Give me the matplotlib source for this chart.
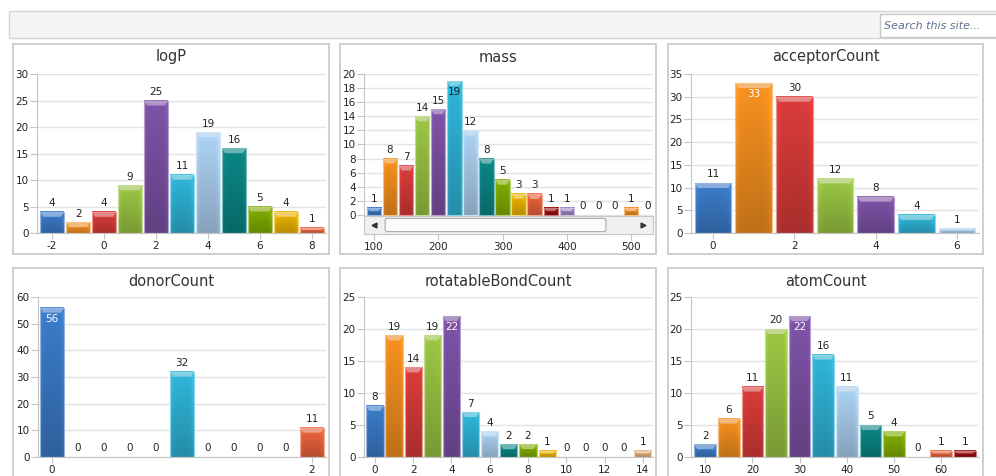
import numpy as np
import matplotlib.pyplot as plt
from matplotlib.patches import Rectangle, Polygon, FancyBboxPatch
from matplotlib.colors import to_rgb

plt.rcParams['axes.unicode_minus'] = False

W, H = 996, 476

# bar colours, used in turn
palette = ['#3a78c3', '#ee8c1f', '#d33a38', '#96c042', '#7a50a2', '#2eb0d2',
           '#a7cbea', '#0b8282', '#7ea900', '#e8b000', '#e6603b', '#990a0a',
           '#9c84c2', '#5b9bd5', '#e2aa7a']

# histogram data
logp_x = [-2, -1, 0, 1, 2, 3, 4, 5, 6, 7, 8]
logp_n = [4, 2, 4, 9, 25, 11, 19, 16, 5, 4, 1]

mass_x = [100, 125, 150, 175, 200, 225, 250, 275, 300, 325, 350, 375, 400,
          425, 450, 475, 500, 525]
mass_n = [1, 8, 7, 14, 15, 19, 12, 8, 5, 3, 3, 1, 1, 0, 0, 0, 1, 0]

acc_x = [0, 1, 2, 3, 4, 5, 6]
acc_n = [11, 33, 30, 12, 8, 4, 1]

donor_x = [0.0, 0.2, 0.4, 0.6, 0.8, 1.0, 1.2, 1.4, 1.6, 1.8, 2.0]
donor_n = [56, 0, 0, 0, 0, 32, 0, 0, 0, 0, 11]

rot_x = [0, 1, 2, 3, 4, 5, 6, 7, 8, 9, 10, 11, 12, 13, 14]
rot_n = [8, 19, 14, 19, 22, 7, 4, 2, 2, 1, 0, 0, 0, 0, 1]

atom_x = [10, 15, 20, 25, 30, 35, 40, 45, 50, 55, 60, 65]
atom_n = [2, 6, 11, 20, 22, 16, 11, 5, 4, 0, 1, 1]


def light(c, a):
    r = np.array(to_rgb(c))
    return tuple(r + (1 - r) * a)


def glossy(ax, xs, ns, width, dpx, dpy):
    cols = [palette[i % len(palette)] for i in range(len(xs))]
    bars = ax.bar(xs, ns, width=width, color=cols, edgecolor='none', zorder=2)
    t = np.linspace(0, 1, 40)[:, None]
    u = np.linspace(0, 1, 20)[None, :]
    fac = (1.04 - 0.24 * t) * (1 + 0.10 * (np.abs(u - 0.5) * 2) ** 6)
    for b, c in zip(bars, cols):
        h = b.get_height()
        if h <= 0:
            continue
        x0 = b.get_x()
        x1 = x0 + b.get_width()
        img = np.clip(np.array(to_rgb(c))[None, None, :] * fac[:, :, None], 0, 1)
        ax.imshow(img, extent=(x0, x1, 0, h), aspect='auto', zorder=2.1,
                  interpolation='bilinear')
        ch = min(5 * dpy, h * 0.45)
        ins = 3 * dpx
        ax.add_patch(Polygon([(x0, h), (x1, h), (x1 - ins, h - ch), (x0 + ins, h - ch)],
                             closed=True, facecolor=light(c, 0.4), edgecolor='none',
                             zorder=2.2))
        ax.add_patch(Rectangle((x0, 0), x1 - x0, h, fill=False,
                               edgecolor=light(c, 0.45), lw=0.8, zorder=2.3))


def panel(box, title, xs, ns, width, xlim, ylim, yticks, xticks, xlabels=None,
          inside_color='white'):
    l, t, r, b = box
    ax = fig.add_axes([l / W, 1 - b / H, (r - l) / W, (b - t) / H])
    ax.set_facecolor('none')
    for s in ('top', 'right'):
        ax.spines[s].set_visible(False)
    for s in ('left', 'bottom'):
        ax.spines[s].set_color('#C4C4C4')
    ax.yaxis.grid(True, color='#E3E3E3', lw=1)
    ax.set_axisbelow(True)
    dpx = (xlim[1] - xlim[0]) / (r - l)
    dpy = (ylim[1] - ylim[0]) / (b - t)
    glossy(ax, xs, ns, width, dpx, dpy)
    for x, n in zip(xs, ns):
        if n + 20 * dpy > ylim[1]:
            ax.annotate(str(n), (x, n), xytext=(0, -4.5), textcoords='offset points',
                        ha='center', va='top', fontsize=7.5, color=inside_color,
                        zorder=3)
        else:
            ax.annotate(str(n), (x, n), xytext=(0, 4), textcoords='offset points',
                        ha='center', va='baseline', fontsize=7.5, color='#222222',
                        zorder=3)
    ax.set_xlim(*xlim)
    ax.set_ylim(*ylim)
    ax.set_yticks(yticks)
    ax.set_xticks(xticks)
    if xlabels is not None:
        ax.set_xticklabels(xlabels)
    ax.tick_params(colors='#C4C4C4', labelcolor='#222222', labelsize=7.5)
    ax.tick_params(axis='x', length=4, pad=2)
    ax.tick_params(axis='y', length=5, pad=1)
    return ax


fig = plt.figure(figsize=(W / 100, H / 100), dpi=100)
fig.patch.set_facecolor('white')

# top bar with search box
fig.add_artist(Rectangle((9 / W, 1 - 38 / H), 1, 27 / H, transform=fig.transFigure,
                         facecolor='#F5F5F5', edgecolor='#D6D6D6', lw=1))
fig.add_artist(Rectangle((880 / W, 1 - 37 / H), 0.2, 23 / H, transform=fig.transFigure,
                         facecolor='white', edgecolor='#C8C8C8', lw=1))
fig.text(884 / W, 1 - 26 / H, 'Search this site...', style='italic', fontsize=8,
         color='#5E6F8F', va='center', ha='left')

# panel frames
frames = [(13, 44, 329, 254), (340, 44, 656, 254), (668, 44, 983, 254),
          (13, 268, 329, 490), (340, 268, 656, 490), (668, 268, 983, 490)]
titles = ['logP', 'mass', 'acceptorCount', 'donorCount', 'rotatableBondCount',
          'atomCount']
for (l, t, r, b), ttl in zip(frames, titles):
    fig.add_artist(Rectangle((l / W, 1 - b / H), (r - l) / W, (b - t) / H,
                             transform=fig.transFigure, facecolor='white',
                             edgecolor='#CACACA', lw=1.3, zorder=0))
    fig.text((l + r) / 2 / W, 1 - (t + 13) / H, ttl, ha='center', va='center',
             fontsize=10.5, color='#333333')

panel((37, 74, 326, 233), 'logP', logp_x, logp_n, 0.92, (-2.58, 8.54), (0, 30),
      [0, 5, 10, 15, 20, 25, 30], [-2, 0, 2, 4, 6, 8])

axm = panel((364, 74, 653, 234), 'mass', mass_x, mass_n, 22.5, (84.5, 534), (-2.7, 20),
            [0, 2, 4, 6, 8, 10, 12, 14, 16, 18, 20], [100, 200, 300, 400, 500],
            inside_color='#222222')
# scrollbar under the mass bars
sb = 18 / 160
axm.add_patch(Rectangle((0, 0), 1, sb, transform=axm.transAxes, facecolor='#F0F0F0',
                        edgecolor='#C8C8C8', lw=0.8, zorder=4, clip_on=False))
axm.add_patch(FancyBboxPatch((0.073, 0.015), 0.764, sb - 0.03,
                             boxstyle='round,pad=0,rounding_size=0.01',
                             transform=axm.transAxes, facecolor='#FBFBFB',
                             edgecolor='#A9A9A9', lw=0.8, zorder=5, clip_on=False))
axm.plot([0.035], [sb / 2], marker='<', ms=3.5, color='#333333',
         transform=axm.transAxes, clip_on=False, zorder=6)
axm.plot([0.965], [sb / 2], marker='>', ms=3.5, color='#333333',
         transform=axm.transAxes, clip_on=False, zorder=6)

panel((691, 74, 979, 233), 'acceptorCount', acc_x, acc_n, 0.9, (-0.54, 6.54), (0, 35),
      [0, 5, 10, 15, 20, 25, 30, 35], [0, 2, 4, 6])

panel((38, 297, 326, 457), 'donorCount', donor_x, donor_n, 0.184, (-0.108, 2.108),
      (0, 60), [0, 10, 20, 30, 40, 50, 60], [0, 2])

panel((364, 297, 653, 457), 'rotatableBondCount', rot_x, rot_n, 0.9, (-0.57, 14.53),
      (0, 25), [0, 5, 10, 15, 20, 25], [0, 2, 4, 6, 8, 10, 12, 14])

panel((691, 297, 979, 457), 'atomCount', atom_x, atom_n, 4.6, (7.0, 68.0), (0, 25),
      [0, 5, 10, 15, 20, 25], [10, 20, 30, 40, 50, 60])

fig.savefig('out.png', dpi=100)
